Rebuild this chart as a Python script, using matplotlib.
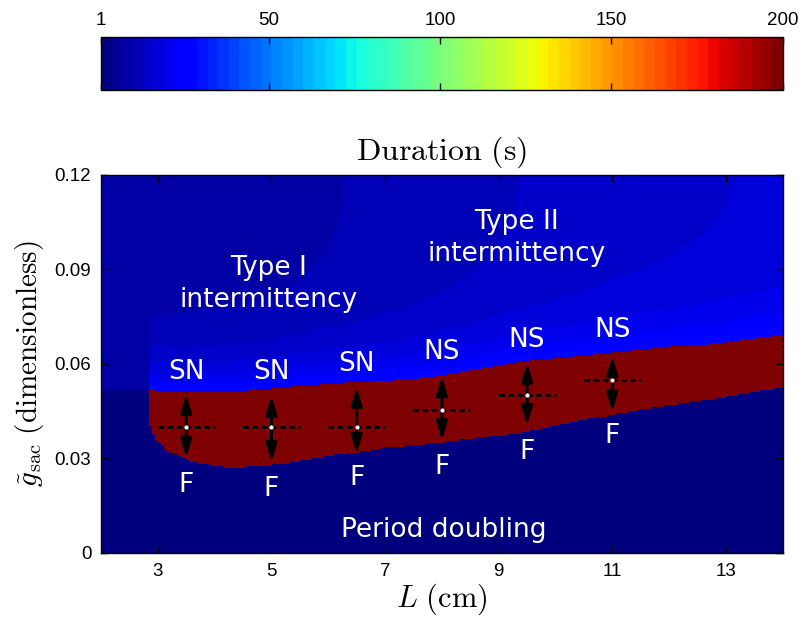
import numpy as np
import matplotlib
matplotlib.use("Agg")
import matplotlib.pyplot as plt

plt.rcParams["mathtext.fontset"] = "cm"

# ---- data -------------------------------------------------------------
# upper edge of the long-duration region (saddle-node / Neimark-Sacker line)
L_upper = [2.83, 3.57, 4.50, 5.50, 6.56, 7.85, 9.38, 11.14, 12.90, 14.00]
g_upper = [0.0514, 0.0508, 0.0511, 0.0527, 0.0540, 0.0559, 0.0606, 0.0635, 0.0667, 0.0692]

# lower edge of the long-duration region (fold line)
L_lower = [2.83, 2.86, 2.95, 3.16, 3.57, 4.13, 4.50, 5.10, 5.98, 6.96, 8.00, 9.38, 11.14, 12.90, 14.00]
g_lower = [0.0514, 0.0414, 0.0360, 0.0327, 0.0289, 0.0273, 0.0272, 0.0280, 0.0305, 0.0333, 0.0350, 0.0380, 0.0444, 0.0492, 0.0524]

L_start = 2.83          # no long transients for shorter cavities

# background duration levels above the upper edge
L_base = [2.0, 2.83, 5.0, 8.0, 11.0, 14.0]
dur_top = [8.0, 8.0, 9.0, 12.0, 15.0, 17.0]
dur_edge = 28.0         # mean duration right above the upper edge
dur_low = 2.0           # short durations below the fold line
dur_long = 200.0        # saturated durations inside the region

# transitions marked by double arrows
L_arrow = [3.5, 5.0, 6.5, 8.0, 9.5, 11.0]
g_center = [0.0400, 0.0400, 0.0400, 0.0455, 0.0500, 0.0550]
g_top = [0.0505, 0.0499, 0.0527, 0.0561, 0.0604, 0.0625]
g_bottom = [0.0302, 0.0289, 0.0314, 0.0358, 0.0406, 0.0449]
upper_names = ["SN", "SN", "SN", "NS", "NS", "NS"]
g_upper_lbl = [0.0575, 0.0575, 0.0600, 0.0638, 0.0676, 0.0708]
g_lower_lbl = [0.0216, 0.0203, 0.0238, 0.0273, 0.0320, 0.0371]

cbar_ticks = [1, 50, 100, 150, 200]
x_ticks = [3, 5, 7, 9, 11, 13]
y_ticks = [0, 0.03, 0.06, 0.09, 0.12]
y_ticklabels = ["0", "0.03", "0.06", "0.09", "0.12"]

# ---- duration map -------------------------------------------------------
nL, ng = 240, 200
Lc = np.linspace(2, 14, nL, endpoint=False) + 6.0 / nL
gc = np.linspace(0, 0.12, ng, endpoint=False) + 0.06 / ng
LL, GG = np.meshgrid(Lc, gc)

up = np.interp(LL, L_upper, g_upper)
lo = np.interp(LL, L_lower, g_lower)
top = np.interp(LL, L_base, dur_top)

left = LL < L_start
above = GG > up
d = np.clip(GG - up, 0, None)
edge = np.where(left, top, dur_edge)
field = np.where(above, top + (edge - top) * np.exp(-d / 0.011), dur_low)
inside = (~left) & (GG >= lo) & (GG <= up)
field = np.where(inside, dur_long, field)

# ---- figure ------------------------------------------------------------
fig = plt.figure(figsize=(8.04, 6.24), dpi=100)
ax = fig.add_axes([0.1256, 0.1138, 0.848, 0.6058])
cmap = plt.get_cmap("jet", 64)
im = ax.imshow(field, origin="lower", extent=[2, 14, 0, 0.12], aspect="auto",
               cmap=cmap, vmin=1, vmax=200, interpolation="nearest")

tick_font = dict(family="Liberation Sans", size=13.5)
ax.set_xlim(2, 14)
ax.set_ylim(0, 0.12)
ax.set_xticks(x_ticks)
ax.set_xticklabels([str(t) for t in x_ticks], **tick_font)
ax.set_yticks(y_ticks)
ax.set_yticklabels(y_ticklabels, **tick_font)
ax.tick_params(direction="in", top=True, right=True, length=5, width=1, pad=7)
for s in ax.spines.values():
    s.set_linewidth(1.0)

ax.set_xlabel(r"$L\ (\mathrm{cm})$", fontsize=22, labelpad=1)
ax.set_ylabel(r"$\tilde{g}_{\mathrm{sac}}\ (\mathrm{dimensionless})$", fontsize=21, labelpad=6)
ax.set_title(r"$\mathrm{Duration\ (s)}$", fontsize=23, pad=11)

# transition arrows
arrow_style = "-|>,head_length=1.1,head_width=0.33"
for L, c, t, b in zip(L_arrow, g_center, g_top, g_bottom):
    ax.plot([L - 0.5, L + 0.5], [c, c], color="black", lw=2, dashes=(2, 1.3))
    for tip in (t, b):
        ax.annotate("", xy=(L, tip), xytext=(L, c),
                    arrowprops=dict(arrowstyle=arrow_style, color="black",
                                    lw=2.2, shrinkA=0, shrinkB=0))
    ax.plot(L, c, "o", color="white", ms=3, mec="none", zorder=5)

lbl = dict(color="white", fontsize=19, family="DejaVu Sans", ha="center", va="center")
for L, name, gu, gl in zip(L_arrow, upper_names, g_upper_lbl, g_lower_lbl):
    ax.text(L, gu, name, **lbl)
    ax.text(L, gl, "F", **lbl)

ax.text(4.95, 0.0854, "Type I\nintermittency", linespacing=1.3, **lbl)
ax.text(9.31, 0.1000, "Type II\nintermittency", linespacing=1.3, **lbl)
ax.text(8.04, 0.0073, "Period doubling", **lbl)

# colour bar on top
cax = fig.add_axes([0.1256, 0.8558, 0.848, 0.0849])
cb = fig.colorbar(im, cax=cax, orientation="horizontal", ticks=cbar_ticks)
cax.tick_params(axis="x", direction="in", top=True, bottom=True,
                labeltop=True, labelbottom=False, length=5, width=1, pad=6)
cax.set_xticklabels([str(t) for t in cbar_ticks], **tick_font)
cb.outline.set_linewidth(1.0)

fig.savefig("out.png", dpi=100)
